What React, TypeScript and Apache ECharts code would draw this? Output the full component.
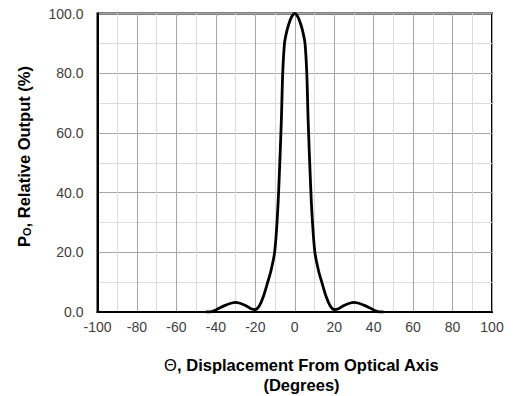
import React, { useEffect, useRef } from "react";
import * as echarts from "echarts";

// Relative output (%) vs displacement (degrees)
const angles = [
  -45, -43, -40, -35, -30, -25, -22.5, -20, -18, -16, -13.7, -12, -10.2, -8.9, -8, -6.8, -6.1, -5.2, -4.2, -3, -1.5, 0,
  1.5, 3, 4.2, 5.2, 6.1, 6.8, 8, 8.9, 10.2, 12, 13.7, 16, 18, 20, 22.5, 25, 30, 35, 40, 43, 45,
];
const output = [
  0, 0, 0.7, 2.3, 3.2, 2.2, 1.2, 0.8, 2, 5, 10, 14, 20, 31, 43, 64, 80, 90, 93.6, 96.5, 99, 100,
  99, 96.5, 93.6, 90, 80, 64, 43, 31, 20, 14, 10, 5, 2, 0.8, 1.2, 2.2, 3.2, 2.3, 0.7, 0, 0,
];
const xTicks = [-100, -80, -60, -40, -20, 0, 20, 40, 60, 80, 100];
const yTicks = [0, 20, 40, 60, 80, 100];

const FONT = "'Liberation Sans', Arial, sans-serif";

export default function App() {
  const ref = useRef<HTMLDivElement>(null);
  useEffect(() => {
    if (!ref.current) return;
    const chart = echarts.init(ref.current, null, { renderer: "svg" });
    const data = angles.map((a, i) => [a, output[i]]);
    chart.setOption({
      animation: false,
      backgroundColor: "#ffffff",
      grid: {
        left: 97.5,
        right: 21,
        top: 13.5,
        bottom: 84,
        show: true,
        borderColor: "#000",
        borderWidth: 2,
        backgroundColor: "transparent",
      },
      xAxis: {
        type: "value",
        min: xTicks[0],
        max: xTicks[xTicks.length - 1],
        interval: 20,
        axisLine: { show: true, onZero: false, lineStyle: { color: "#000", width: 2 } },
        axisTick: { show: false },
        axisLabel: { color: "#404040", fontSize: 14, fontFamily: FONT, margin: 8 },
        splitLine: { show: true, lineStyle: { color: "#a6a6a6", width: 1 } },
        minorTick: { show: false, splitNumber: 2 },
        minorSplitLine: { show: true, lineStyle: { color: "#dcdcdc", width: 1 } },
      },
      yAxis: {
        type: "value",
        min: yTicks[0],
        max: yTicks[yTicks.length - 1],
        interval: 20,
        axisLine: { show: true, onZero: false, lineStyle: { color: "#000", width: 2 } },
        axisTick: { show: false },
        axisLabel: {
          color: "#404040",
          fontSize: 14,
          fontFamily: FONT,
          margin: 14,
          formatter: (v: number) => v.toFixed(1),
        },
        splitLine: { show: true, lineStyle: { color: "#a6a6a6", width: 1 } },
        minorTick: { show: false, splitNumber: 2 },
        minorSplitLine: { show: true, lineStyle: { color: "#dcdcdc", width: 1 } },
      },
      series: [
        {
          type: "line",
          data,
          smooth: 0.3,
          showSymbol: false,
          symbol: "none",
          lineStyle: { color: "#000", width: 2.8 },
          z: 5,
        },
      ],
      graphic: [
        {
          type: "text",
          x: 23,
          y: 156.5,
          rotation: Math.PI / 2,
          style: {
            text: "{a|P}{s|O}{a|, Relative Output (%)}",
            align: "center",
            verticalAlign: "middle",
            rich: {
              a: { fontSize: 16.5, fontWeight: "bold", fontFamily: FONT, fill: "#000", lineHeight: 18, verticalAlign: "bottom" },
              s: { fontSize: 11, fontWeight: "bold", fontFamily: FONT, fill: "#000", lineHeight: 6, verticalAlign: "bottom" },
            },
          },
        },
        {
          type: "text",
          x: 301.5,
          y: 365,
          style: {
            text: "{t|Θ}{a|, Displacement From Optical Axis}",
            align: "center",
            verticalAlign: "middle",
            rich: {
              t: { fontSize: 16.5, fontFamily: FONT, fill: "#000" },
              a: { fontSize: 16.5, fontWeight: "bold", fontFamily: FONT, fill: "#000" },
            },
          },
        },
        {
          type: "text",
          x: 301.5,
          y: 385,
          style: {
            text: "(Degrees)",
            align: "center",
            verticalAlign: "middle",
            fontSize: 16.5,
            fontWeight: "bold",
            fontFamily: FONT,
            fill: "#000",
          },
        },
      ],
    });
    return () => chart.dispose();
  }, []);
  return (
    <div
      ref={ref}
      style={{ position: "fixed", left: 0, top: 0, width: 513, height: 396, background: "#fff" }}
    />
  );
}
